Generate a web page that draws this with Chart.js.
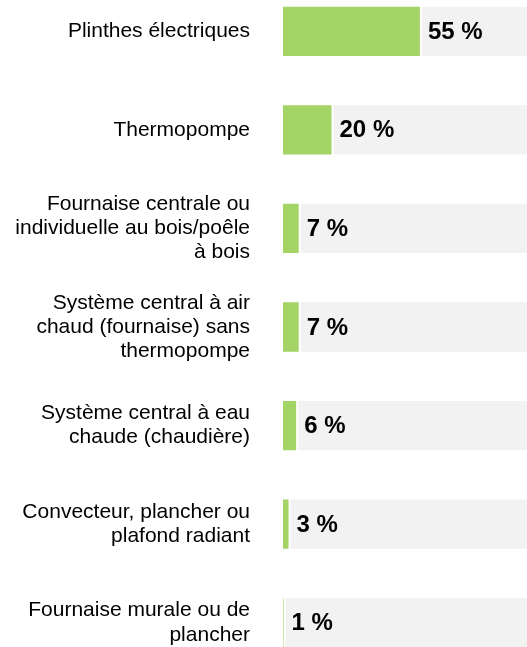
<!DOCTYPE html>
<html>
<head>
<meta charset="utf-8">
<script src="https://cdn.jsdelivr.net/npm/chart.js@4"></script>
<style>
  html, body { margin: 0; padding: 0; background: #ffffff; overflow: hidden; width: 527px; height: 647px; }
  #wrap { position: absolute; left: 0; top: -18px; width: 527px; height: 690px; }
</style>
</head>
<body>
<div id="wrap"><canvas id="c" width="527" height="690"></canvas></div>
<script>
const categories = [
  "Plinthes électriques",
  "Thermopompe",
  ["Fournaise centrale ou", "individuelle au bois/poêle", "à bois"],
  ["Système central à air", "chaud (fournaise) sans", "thermopompe"],
  ["Système central à eau", "chaude (chaudière)"],
  ["Convecteur, plancher ou", "plafond radiant"],
  ["Fournaise murale ou de", "plancher"]
];
const shares = [55, 20, 7, 7, 6, 3, 1];
const total = 100;
const remainder = shares.map(v => total - v);
const valueLabels = shares.map(v => v + " %");

const FONT = "'Liberation Sans', Arial, Helvetica, sans-serif";

const valueLabelPlugin = {
  id: 'valueLabels',
  afterDatasetsDraw(chart) {
    const ctx = chart.ctx;
    const meta = chart.getDatasetMeta(0);
    ctx.save();
    ctx.font = "bold 24px " + FONT;
    ctx.fillStyle = "#000000";
    ctx.textAlign = "left";
    ctx.textBaseline = "middle";
    meta.data.forEach((el, i) => {
      ctx.fillText(valueLabels[i], el.x + 7, el.y + 1);
    });
    ctx.restore();
  }
};

new Chart(document.getElementById('c'), {
  type: 'bar',
  data: {
    labels: categories,
    datasets: [
      {
        data: shares,
        backgroundColor: '#A3D465',
        borderColor: '#ffffff',
        borderWidth: 1,
        borderSkipped: false,
        categoryPercentage: 1,
        barPercentage: 0.52
      },
      {
        data: remainder,
        backgroundColor: '#F2F2F2',
        borderColor: '#ffffff',
        borderWidth: 1,
        borderSkipped: false,
        categoryPercentage: 1,
        barPercentage: 0.52
      }
    ]
  },
  options: {
    indexAxis: 'y',
    responsive: false,
    animation: false,
    devicePixelRatio: 1,
    layout: { padding: 0 },
    plugins: {
      legend: { display: false },
      tooltip: { enabled: false }
    },
    scales: {
      x: {
        display: false,
        stacked: true,
        min: 0,
        max: 97
      },
      y: {
        stacked: true,
        border: { display: false },
        grid: { display: false, drawTicks: false },
        ticks: {
          color: '#000000',
          padding: 32,
          font: { family: FONT, size: 21, lineHeight: 1.15 }
        },
        afterFit(scale) {
          scale.width = 282;
          scale.paddingTop = 0;
          scale.paddingBottom = 0;
        }
      }
    }
  },
  plugins: [valueLabelPlugin]
});
</script>
</body>
</html>
